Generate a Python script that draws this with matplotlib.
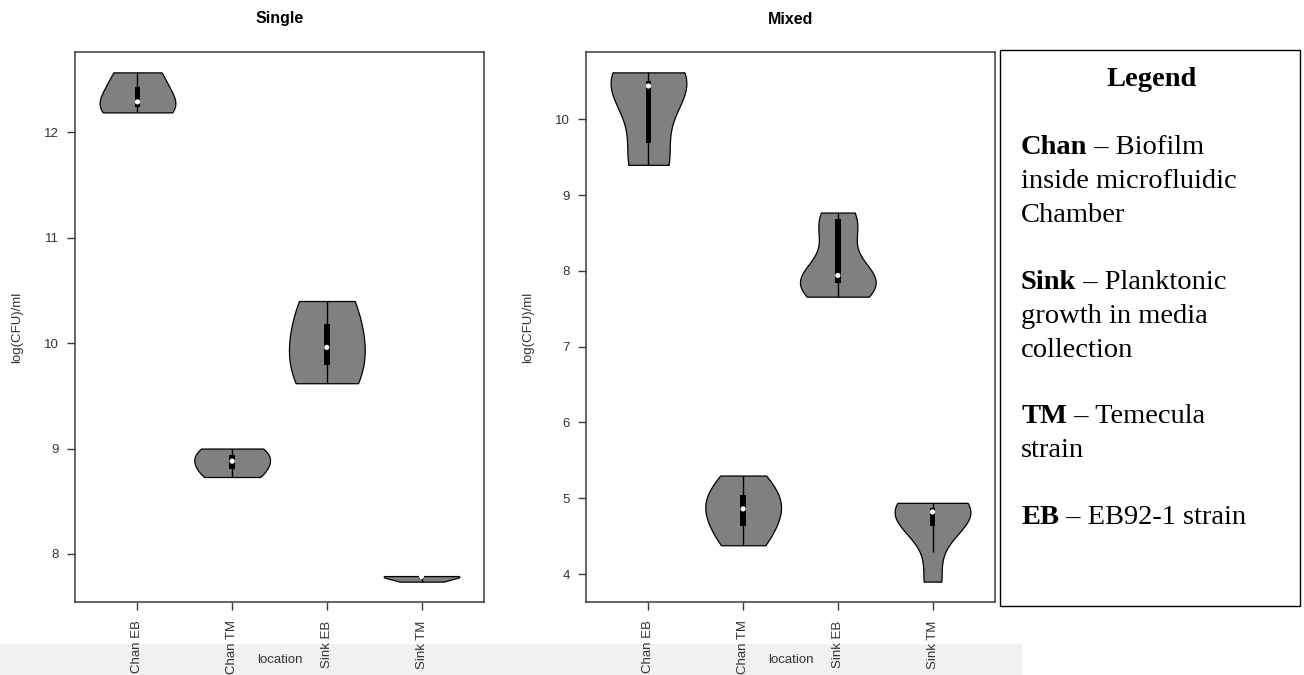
import numpy as np
import matplotlib
matplotlib.use("Agg")
import matplotlib.pyplot as plt
from matplotlib.patches import Rectangle
from matplotlib.text import Annotation

plt.rcParams["font.family"] = ["Liberation Sans", "DejaVu Sans"]

# ---------------- data ----------------
locations = ["Chan EB", "Chan TM", "Sink EB", "Sink TM"]

# replicate log(CFU)/ml values, single-strain experiment
single_chan_eb = [12.19, 12.29, 12.57]
single_chan_tm = [8.73, 8.88, 9.00]
single_sink_eb = [9.62, 9.96, 10.40]
single_sink_tm = [7.737, 7.785, 7.79]

# replicate log(CFU)/ml values, mixed-strain experiment
mixed_chan_eb = [9.40, 9.46, 10.38, 10.50, 10.50, 10.62]
mixed_chan_tm = [4.38, 4.58, 4.82, 4.90, 5.09, 5.30]
mixed_sink_eb = [7.66, 7.78, 7.90, 8.02, 8.50, 8.77]
mixed_sink_tm = [3.90, 4.593, 4.78, 4.86, 4.873, 4.94]

# box summaries as drawn (lower quartile, median, upper quartile)
single_q1 = [12.24, 8.805, 9.79, 7.761]
single_median = [12.29, 8.88, 9.96, 7.785]
single_q3 = [12.43, 8.94, 10.18, 7.788]
mixed_q1 = [9.69, 4.64, 7.84, 4.64]
mixed_median = [10.44, 4.86, 7.94, 4.82]
mixed_q3 = [10.50, 5.04, 8.68, 4.87]

# kernel bandwidths (None -> Silverman rule)
single_bandwidth = [None, None, None, None]
mixed_bandwidth = [None, None, 0.25, None]

single_yticks = [8, 9, 10, 11, 12]
mixed_yticks = [4, 5, 6, 7, 8, 9, 10]

# ---------------- figure ----------------
W, H = 1304, 675
fig = plt.figure(figsize=(W / 100, H / 100), dpi=100)


def fx(x):
    return x / W


def fy(y):
    return 1 - y / H


SPINE = "#3c3c3c"


def panel(left_px, groups, q1s, meds, q3s, bws, yticks, title):
    ax = fig.add_axes([fx(left_px), fy(602), 409 / W, 550 / H])
    positions = np.arange(1, len(groups) + 1)
    for pos, data, bw in zip(positions, groups, bws):
        data = np.asarray(data, dtype=float)
        method = "silverman" if bw is None else bw / np.std(data, ddof=1)
        parts = ax.violinplot([data], positions=[pos], widths=0.8,
                              showmeans=False, showmedians=False,
                              showextrema=False, bw_method=method, points=300)
        for b in parts["bodies"]:
            b.set_facecolor("#808080")
            b.set_edgecolor("black")
            b.set_linewidth(0.9)
            b.set_alpha(1)
            b.set_zorder(1)
    for pos, data, q1, q3 in zip(positions, groups, q1s, q3s):
        iqr = q3 - q1
        lower = max(q1 - 1.5 * iqr, min(data))
        upper = min(q3 + 1.5 * iqr, max(data))
        ax.vlines(pos, lower, upper, color="black", lw=1.0, zorder=2)
    heights = np.array(q3s) - np.array(q1s)
    ax.bar(positions, heights, bottom=q1s, width=0.06, color="black", zorder=3)
    ax.scatter(positions, meds, s=14, color="white", edgecolors="none", zorder=4)

    allv = np.concatenate([np.asarray(g, dtype=float) for g in groups])
    lo, hi = allv.min(), allv.max()
    pad = 0.04 * (hi - lo)
    ax.set_ylim(lo - pad, hi + pad)
    ax.set_xlim(0.5 - 0.16, len(groups) + 0.5 + 0.16)
    ax.set_xticks(positions)
    ax.set_xticklabels(locations, rotation=90)
    ax.set_yticks(yticks)
    ax.tick_params(direction="out", length=5.8, width=1.0, color=SPINE,
                   labelsize=9.5, labelcolor="#333333")
    ax.tick_params(axis="x", pad=7.5)
    ax.tick_params(axis="y", pad=6)
    for s in ax.spines.values():
        s.set_color(SPINE)
        s.set_linewidth(1.1)
    cx = left_px + 409 / 2
    fig.text(fx(cx), fy(19), title, ha="center", va="center",
             fontsize=11.5, fontweight="bold")
    fig.text(fx(cx), fy(660), "location", ha="center", va="center",
             fontsize=9.5, color="#333333")
    fig.text(fx(left_px - 58), fy(327), "log(CFU)/ml", rotation=90,
             ha="center", va="center", fontsize=9.5, color="#333333")
    return ax


# light grey strip at the bottom of the screenshot
fig.patches.append(Rectangle((0, 0), fx(1022), fy(644), transform=fig.transFigure,
                             facecolor="#f1f1f1", edgecolor="none", zorder=-1))

panel(75, [single_chan_eb, single_chan_tm, single_sink_eb, single_sink_tm],
      single_q1, single_median, single_q3, single_bandwidth, single_yticks, "Single")
panel(586, [mixed_chan_eb, mixed_chan_tm, mixed_sink_eb, mixed_sink_tm],
      mixed_q1, mixed_median, mixed_q3, mixed_bandwidth, mixed_yticks, "Mixed")

# ---------------- legend box ----------------
fig.patches.append(Rectangle((fx(1000), fy(606)), (1300 - 1000) / W, (606 - 50) / H,
                             transform=fig.transFigure, facecolor="white",
                             edgecolor="black", lw=1.0, zorder=0))

SERIF = ["Liberation Serif", "DejaVu Serif"]
LS = 20.5
fig.text(fx(1152), fy(86), "Legend", ha="center", va="baseline",
         fontsize=LS, fontweight="bold", family=SERIF)

legend_items = [
    ("Chan", " – Biofilm", ["inside microfluidic", "Chamber"], 154),
    ("Sink", " – Planktonic", ["growth in media", "collection"], 289),
    ("TM", " – Temecula", ["strain"], 423),
    ("EB", " – EB92-1 strain", [], 524),
]
LINE = 33.8
for bold, rest, extra, y0 in legend_items:
    t = fig.text(fx(1021), fy(y0), bold, ha="left", va="baseline",
                 fontsize=LS, fontweight="bold", family=SERIF)
    a = Annotation(rest, xy=(1, 0), xycoords=t, va="bottom", ha="left",
                   fontsize=LS, family=SERIF)
    a.set_figure(fig)
    fig.texts.append(a)
    for i, line in enumerate(extra):
        fig.text(fx(1021), fy(y0 + LINE * (i + 1)), line, ha="left", va="baseline",
                 fontsize=LS, family=SERIF)

fig.savefig("out.png", dpi=100)
